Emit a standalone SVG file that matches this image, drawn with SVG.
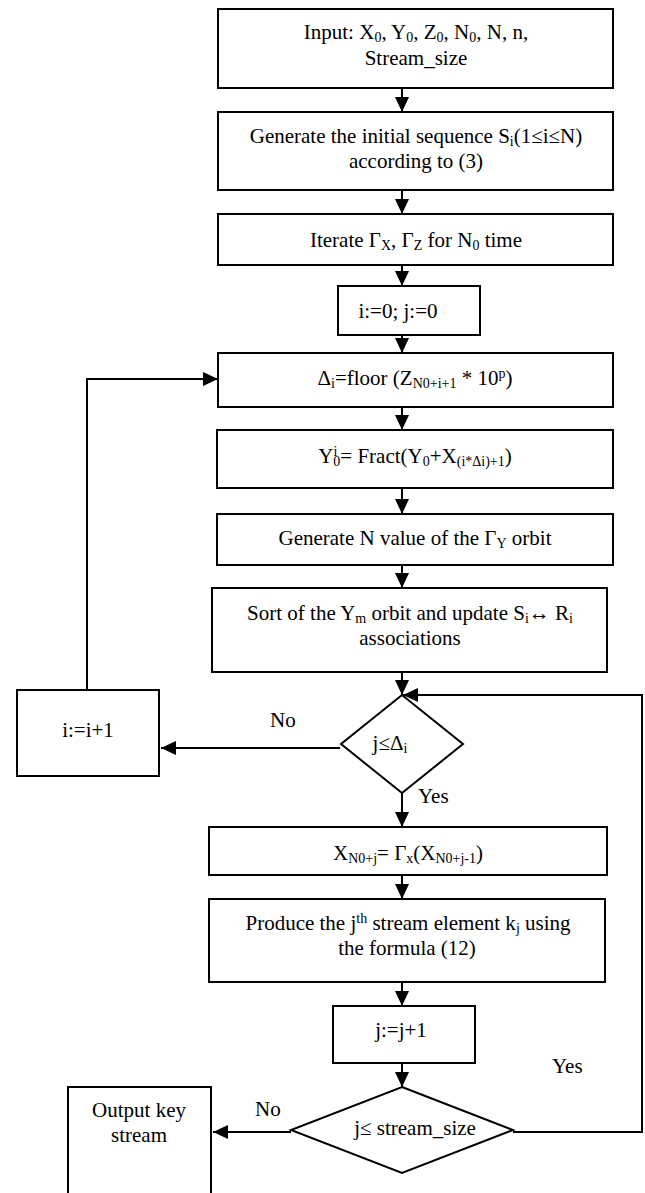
<svg xmlns="http://www.w3.org/2000/svg" width="645" height="1193" viewBox="0 0 645 1193">
<style>
.b{fill:#fff;stroke:#000;stroke-width:2}
.t{font-family:"Liberation Serif","Times New Roman",serif;font-size:21px;fill:#000;text-anchor:middle}
.l{font-family:"Liberation Serif","Times New Roman",serif;font-size:21px;fill:#000}
.s{font-size:14px}
.c{fill:none;stroke:#000;stroke-width:2}
</style>
<defs>
<marker id="ah" markerUnits="userSpaceOnUse" markerWidth="15" markerHeight="14" refX="15" refY="7" orient="auto">
<path d="M0,0 L15,7 L0,14 z" fill="#000"/>
</marker>
</defs>
<rect width="645" height="1193" fill="#fff"/>
<g id="connectors">
<path class="c" d="M402,88 V112" marker-end="url(#ah)"/>
<path class="c" d="M402,190 V214" marker-end="url(#ah)"/>
<path class="c" d="M402,265 V286" marker-end="url(#ah)"/>
<path class="c" d="M402,335 V353" marker-end="url(#ah)"/>
<path class="c" d="M402,407 V430" marker-end="url(#ah)"/>
<path class="c" d="M402,488 V514" marker-end="url(#ah)"/>
<path class="c" d="M402,565 V588" marker-end="url(#ah)"/>
<path class="c" d="M402,672 V695" marker-end="url(#ah)"/>
<path class="c" d="M402,793 V827" marker-end="url(#ah)"/>
<path class="c" d="M402,875 V899" marker-end="url(#ah)"/>
<path class="c" d="M402,982 V1006" marker-end="url(#ah)"/>
<path class="c" d="M402,1063 V1087" marker-end="url(#ah)"/>
<path class="c" d="M87,690 V379 H218" marker-end="url(#ah)"/>
<path class="c" d="M340,748 H161" marker-end="url(#ah)"/>
<path class="c" d="M513,1132 H642 V695 H403" marker-end="url(#ah)"/>
<path class="c" d="M291,1132 H213" marker-end="url(#ah)"/>
<text class="l" x="270" y="727">No</text>
<text class="l" x="418" y="803">Yes</text>
<text class="l" x="552" y="1073">Yes</text>
<text class="l" x="255" y="1116">No</text>
</g>
<g id="input">
<rect class="b" x="218" y="9" width="395" height="79"/>
<text class="t" x="416" y="39">Input: X<tspan class="s" baseline-shift="-3">0</tspan>, Y<tspan class="s" baseline-shift="-3">0</tspan>, Z<tspan class="s" baseline-shift="-3">0</tspan>, N<tspan class="s" baseline-shift="-3">0</tspan>, N, n,</text>
<text class="t" x="416" y="65">Stream_size</text>
</g>
<g id="generate-seq">
<rect class="b" x="218" y="112" width="395" height="78"/>
<text class="t" x="416" y="143">Generate the initial sequence S<tspan class="s" baseline-shift="-3">i</tspan>(1≤i≤N)</text>
<text class="t" x="416" y="168">according to (3)</text>
</g>
<g id="iterate">
<rect class="b" x="218" y="214" width="395" height="51"/>
<text class="t" x="416" y="247">Iterate Γ<tspan class="s" baseline-shift="-3">X</tspan>, Γ<tspan class="s" baseline-shift="-3">Z</tspan> for N<tspan class="s" baseline-shift="-3">0</tspan> time</text>
</g>
<g id="init-ij">
<rect class="b" x="338" y="286" width="142" height="49"/>
<text class="t" x="398" y="318">i:=0; j:=0</text>
</g>
<g id="delta">
<rect class="b" x="218" y="353" width="395" height="54"/>
<text class="t" x="415" y="385">Δ<tspan class="s" baseline-shift="-3">i</tspan>=floor (Z<tspan class="s" baseline-shift="-3">N0+i+1</tspan> * 10<tspan class="s" baseline-shift="7">p</tspan>)</text>
</g>
<g id="fract">
<rect class="b" x="217" y="430" width="396" height="58"/>
<text class="t" x="415" y="463">Y<tspan class="s" baseline-shift="7">i</tspan><tspan class="s" dx="-4" baseline-shift="-3">0</tspan>= Fract(Y<tspan class="s" baseline-shift="-3">0</tspan>+X<tspan class="s" baseline-shift="-3">(i*Δi)+1</tspan>)</text>
</g>
<g id="gen-orbit">
<rect class="b" x="217" y="514" width="396" height="51"/>
<text class="t" x="415" y="545">Generate N value of the Γ<tspan class="s" baseline-shift="-3">Y</tspan> orbit</text>
</g>
<g id="sort">
<rect class="b" x="212" y="588" width="395" height="84"/>
<text class="t" x="410" y="620">Sort of the Y<tspan class="s" baseline-shift="-3">m</tspan> orbit and update S<tspan class="s" baseline-shift="-3">i</tspan>↔ R<tspan class="s" baseline-shift="-3">i</tspan></text>
<text class="t" x="410" y="645">associations</text>
</g>
<g id="cond-delta">
<polygon class="b" points="402,695 463,744 402,793 341,744"/>
<text class="t" x="390" y="750">j≤Δ<tspan class="s" baseline-shift="-3">i</tspan></text>
</g>
<g id="inc-i">
<rect class="b" x="17" y="690" width="142" height="86"/>
<text class="t" x="88" y="737">i:=i+1</text>
</g>
<g id="x-step">
<rect class="b" x="209" y="827" width="398" height="48"/>
<text class="t" x="408" y="860">X<tspan class="s" baseline-shift="-3">N0+j</tspan>= Γ<tspan class="s" baseline-shift="-3">x</tspan>(X<tspan class="s" baseline-shift="-3">N0+j-1</tspan>)</text>
</g>
<g id="produce">
<rect class="b" x="209" y="899" width="396" height="83"/>
<text class="t" x="408" y="930">Produce the j<tspan class="s" baseline-shift="7">th</tspan> stream element k<tspan class="s" baseline-shift="-3">j</tspan> using</text>
<text class="t" x="407" y="955">the formula (12)</text>
</g>
<g id="inc-j">
<rect class="b" x="333" y="1006" width="142" height="57"/>
<text class="t" x="401" y="1037">j:=j+1</text>
</g>
<g id="cond-stream">
<polygon class="b" points="402,1087 513,1130 402,1173 291,1130"/>
<text class="t" x="415" y="1135">j≤ stream_size</text>
</g>
<g id="output">
<rect class="b" x="68" y="1087" width="143" height="130"/>
<text class="t" x="139" y="1117">Output key</text>
<text class="t" x="139" y="1142">stream</text>
</g>
</svg>
